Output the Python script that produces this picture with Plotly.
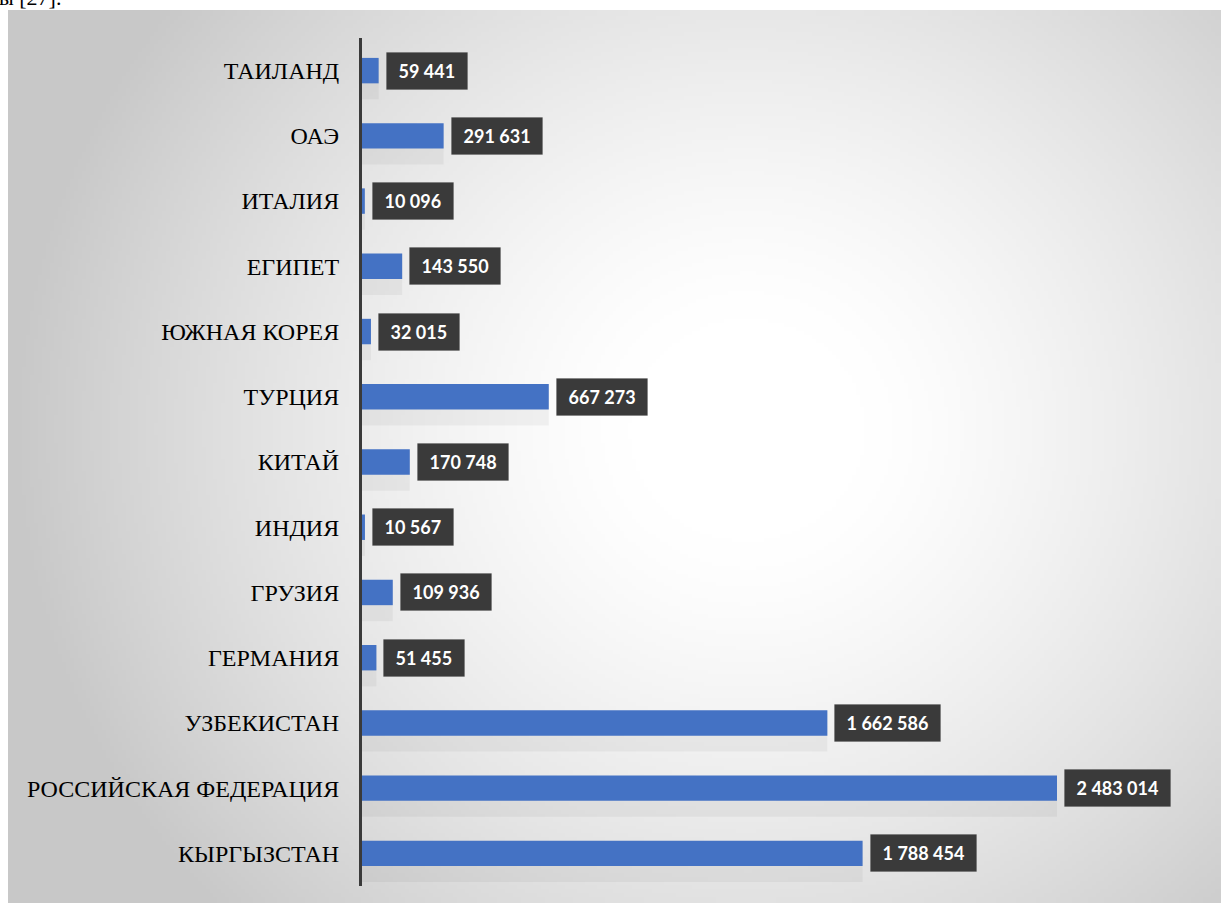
import base64, struct, zlib
import numpy as np
import plotly.graph_objects as go

categories = ["КЫРГЫЗСТАН", "РОССИЙСКАЯ ФЕДЕРАЦИЯ", "УЗБЕКИСТАН", "ГЕРМАНИЯ", "ГРУЗИЯ",
              "ИНДИЯ", "КИТАЙ", "ТУРЦИЯ", "ЮЖНАЯ КОРЕЯ", "ЕГИПЕТ", "ИТАЛИЯ", "ОАЭ", "ТАИЛАНД"]
values = [1788454, 2483014, 1662586, 51455, 109936, 10567, 170748, 667273, 32015,
          143550, 10096, 291631, 59441]
labels = [f"{v:,}".replace(",", " ") for v in values]

W, H = 1221, 909
ml, mr, mt, mb = 362, 21, 38, 23
pw, ph = W - ml - mr, H - mt - mb


def gradient_png(w, h, full_w, full_h):
    ys, xs = np.mgrid[0:h, 0:w]
    X = xs / (w - 1) * full_w
    Y = ys / (h - 1) * full_h
    cx, cy = 740.0, 420.0
    d = np.sqrt(((X - cx) / 1.0) ** 2 + ((Y - cy) / 0.95) ** 2)
    t = np.clip((d - 120) / 620.0, 0, 1)
    c = 255 - (255 - 200) * t ** 1.3
    img = np.repeat(c[:, :, None], 3, axis=2).astype(np.uint8)
    raw = b"".join(b"\x00" + img[r].tobytes() for r in range(h))
    def chunk(tag, data):
        return struct.pack(">I", len(data)) + tag + data + struct.pack(">I", zlib.crc32(tag + data) & 0xffffffff)
    png = b"\x89PNG\r\n\x1a\n" + chunk(b"IHDR", struct.pack(">IIBBBBB", w, h, 8, 2, 0, 0, 0)) \
        + chunk(b"IDAT", zlib.compress(raw, 9)) + chunk(b"IEND", b"")
    return "data:image/png;base64," + base64.b64encode(png).decode()


bx0, by0, bx1, by1 = 8, 10, 1221, 903
bg = gradient_png(304, 224, bx1 - bx0, by1 - by0)

fig = go.Figure()
# soft shadow behind bars
fig.add_trace(go.Bar(y=categories, x=values, orientation="h", width=0.62, offset=-0.44,
                     marker=dict(color="rgba(0,0,0,0.045)", line=dict(width=0)),
                     hoverinfo="skip", showlegend=False))
fig.add_trace(go.Bar(y=categories, x=values, orientation="h", width=0.39,
                     marker=dict(color="#4472C4", line=dict(width=0)), showlegend=False))

for c, v, lab in zip(categories, values, labels):
    txt = "\u00a0<b>" + lab + "</b>\u00a0"
    fig.add_annotation(x=v, y=c, text=txt, showarrow=False, xanchor="left",
                       xshift=7, bgcolor="#3a3a3a", borderpad=7,
                       bordercolor="rgba(0,0,0,0.12)", borderwidth=1,
                       font=dict(family="Lato", size=18, color="white"))

fig.add_annotation(xref="paper", yref="paper", x=(-3 - ml) / pw, y=(H - mb + 2) / ph,
                   text="ы [27].", showarrow=False, xanchor="left", yanchor="middle",
                   font=dict(family="Liberation Serif", size=22, color="black"))

fig.add_layout_image(dict(source=bg, xref="paper", yref="paper", x=(bx0 - ml) / pw,
                          y=(H - mb - by0) / ph, sizex=(bx1 - bx0) / pw, sizey=(by1 - by0) / ph,
                          xanchor="left", yanchor="top", sizing="stretch", layer="below"))

fig.update_layout(
    width=W, height=H, margin=dict(l=ml, r=mr, t=mt, b=mb),
    paper_bgcolor="white", plot_bgcolor="rgba(0,0,0,0)",
    barmode="overlay", bargap=0.61,
    xaxis=dict(range=[0, 2483014 * pw / 695], visible=False, showgrid=False, zeroline=False),
    yaxis=dict(categoryorder="array", categoryarray=categories, showline=True,
               linecolor="#3a3a3a", linewidth=3, ticks="", ticklabelstandoff=15,
               tickfont=dict(family="Liberation Serif", size=24, color="black"),
               showgrid=False, zeroline=False),
)

fig.write_html("out.html", config={"displayModeBar": False},
               post_script="document.body.style.margin='0';document.body.style.overflow='hidden';")
